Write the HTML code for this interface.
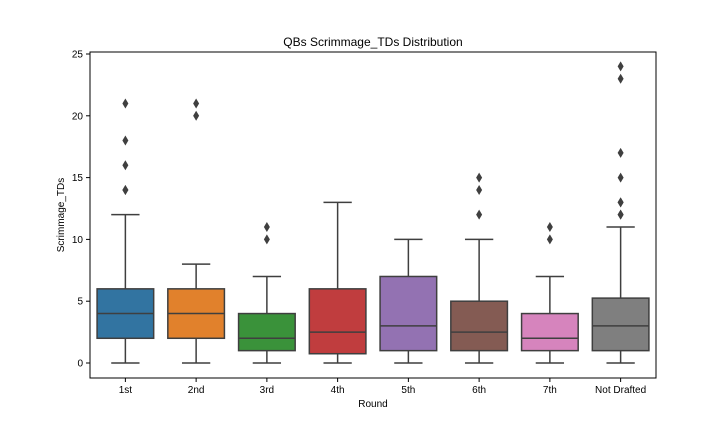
<!DOCTYPE html>
<html><head><meta charset="utf-8"><style>
body{margin:0;background:#fff;}
svg{display:block;font-family:"Liberation Sans",sans-serif;}
</style></head><body>
<svg id="chart" width="720" height="432"></svg>
<script>
const categories=["1st","2nd","3rd","4th","5th","6th","7th","Not Drafted"];
const whiskerLow=[0,0,0,0,0,0,0,0];
const q1=[2,2,1,0.75,1,1,1,1];
const medians=[4,4,2,2.5,3,2.5,2,3];
const q3=[6,6,4,6,7,5,4,5.25];
const whiskerHigh=[12,8,7,13,10,10,7,11];
const fliers=[[14,14,16,18,21],[20,21],[10,11],[],[],[12,14,15],[10,11],[12,12,13,13,15,17,23,24]];
const colors=["#3274a1","#e1812c","#3a923a","#c03d3e","#9372b2","#845b53","#d684bd","#7f7f7f"];
const yTicks=[0,5,10,15,20,25];
const L=90,R=656,T=52,B=378;
const NS="http://www.w3.org/2000/svg";
const svg=document.getElementById('chart');
const bw=(R-L)/categories.length;
const xc=i=>L+bw*(i+0.5);
const y=v=>363-v*12.36;
function mk(tag,attrs,parent){const e=document.createElementNS(NS,tag);for(const k in attrs)e.setAttribute(k,attrs[k]);(parent||svg).appendChild(e);return e;}
const line='#3f3f3f';
categories.forEach((c,i)=>{
  const g=mk('g',{});
  
  
  const cx=xc(i),w=bw*0.8,hw=w/4;
  mk('line',{x1:cx,x2:cx,y1:y(q3[i]),y2:y(whiskerHigh[i]),stroke:line,'stroke-width':1.5},g);
  mk('line',{x1:cx,x2:cx,y1:y(q1[i]),y2:y(whiskerLow[i]),stroke:line,'stroke-width':1.5},g);
  mk('line',{x1:cx-hw,x2:cx+hw,y1:y(whiskerHigh[i]),y2:y(whiskerHigh[i]),stroke:line,'stroke-width':1.5},g);
  mk('line',{x1:cx-hw,x2:cx+hw,y1:y(whiskerLow[i]),y2:y(whiskerLow[i]),stroke:line,'stroke-width':1.5},g);
  mk('rect',{x:cx-w/2,y:y(q3[i]),width:w,height:y(q1[i])-y(q3[i]),fill:colors[i],stroke:line,'stroke-width':1.5},g);
  mk('line',{x1:cx-w/2,x2:cx+w/2,y1:y(medians[i]),y2:y(medians[i]),stroke:line,'stroke-width':1.5},g);
  fliers[i].forEach(f=>{
    const p=mk('path',{d:`M${cx},${y(f)-5}L${cx+3},${y(f)}L${cx},${y(f)+5}L${cx-3},${y(f)}Z`,fill:line},g);
    
    
  });
  mk('line',{x1:cx,x2:cx,y1:B,y2:B+4,stroke:'#000'});
  const t=mk('text',{x:cx,y:B+15,'font-size':10,'text-anchor':'middle',fill:'#000'});
  t.textContent=c;
  
  
});
yTicks.forEach(v=>{
  mk('line',{x1:L-4,x2:L,y1:y(v),y2:y(v),stroke:'#000'});
  const t=mk('text',{x:L-7,y:y(v)+3.5,'font-size':10,'text-anchor':'end',fill:'#000'});
  t.textContent=v;
  
  
});
const frame=mk('rect',{x:L,y:T,width:R-L,height:B-T,fill:'none',stroke:'#000','stroke-width':1});


const title=mk('text',{x:(L+R)/2,y:46,'font-size':12,'text-anchor':'middle',fill:'#000'});
title.textContent='QBs Scrimmage_TDs Distribution';


const xt=mk('text',{x:(L+R)/2,y:407,'font-size':10,'text-anchor':'middle',fill:'#000'});
xt.textContent='Round';


const yt=mk('text',{x:64,y:(T+B)/2,'font-size':10,'text-anchor':'middle',fill:'#000',transform:`rotate(-90 64 ${(T+B)/2})`});
yt.textContent='Scrimmage_TDs';


</script>
</body></html>
